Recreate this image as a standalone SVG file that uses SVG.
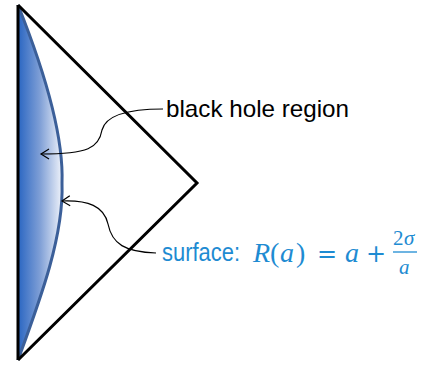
<svg xmlns="http://www.w3.org/2000/svg" width="424" height="368" viewBox="0 0 424 368">
<style>
.edge{fill:none;stroke:#000;stroke-width:3;stroke-linejoin:miter}
.conn{fill:none;stroke:#000;stroke-width:1.2}
.lbl{font-family:"Liberation Sans","Open Sans",sans-serif;font-size:24px;fill:#000}
.blue{fill:#1e8bd2}
.math{font-family:"Liberation Serif","DejaVu Serif",serif;font-size:28px;fill:#1e8bd2}
.it{font-style:italic}
.op{font-family:"DejaVu Sans",sans-serif;font-size:24px}
</style>
<defs>
<linearGradient id="g" gradientUnits="userSpaceOnUse" x1="18" y1="0" x2="62" y2="0">
<stop offset="0" stop-color="#2a66c2"/>
<stop offset="0.5" stop-color="#7f9fd6"/>
<stop offset="1" stop-color="#eef2fa"/>
</linearGradient>
<marker id="ah" markerWidth="12" markerHeight="12" refX="9" refY="6" orient="auto" markerUnits="userSpaceOnUse">
<path d="M1,1 L9,6 L1,11" fill="none" stroke="#000" stroke-width="1.2"/>
</marker>
</defs>
<g id="surface">
<path d="M18,5 C40,60 64,130 62,183 C64,236 40,300 18,360 Z" fill="url(#g)" stroke="none"/>
<path d="M18,5 C40,60 64,130 62,183 C64,236 40,300 18,360" fill="none" stroke="#3b5f99" stroke-width="3"/>
</g>
<g id="triangle">
<line x1="18" y1="5" x2="18" y2="360" class="edge"/>
<polyline points="18,5 197,183 18,360" class="edge"/>
</g>
<g id="connectors">
<path class="conn" marker-end="url(#ah)" d="M163,109 C130,109 106,115 102,130 C99,148 88,154 41,154"/>
<path class="conn" marker-end="url(#ah)" d="M156,253 C125,252 112,244 108,224 C104,206 88,200 62,201"/>
</g>
<g id="label-bh">
<text class="lbl" x="166" y="117" textLength="183" lengthAdjust="spacingAndGlyphs">black hole region</text>
</g>
<g id="label-surface">
<text class="lbl blue" x="162" y="261" style="font-size:25px" textLength="78" lengthAdjust="spacingAndGlyphs">surface:</text>
<text class="math" y="262"><tspan class="it" x="253">R</tspan><tspan x="270">(</tspan><tspan class="it" x="280">a</tspan><tspan x="296">)</tspan><tspan class="op" x="317">=</tspan><tspan class="it" x="345">a</tspan><tspan class="op" x="366">+</tspan></text>
<text class="math" y="245" style="font-size:21px"><tspan x="393">2</tspan><tspan class="it" x="404">σ</tspan></text>
<line x1="393" y1="252" x2="417" y2="252" stroke="#1e8bd2" stroke-width="1.3"/>
<text class="math it" x="399" y="274" style="font-size:21px">a</text>
</g>
</svg>
